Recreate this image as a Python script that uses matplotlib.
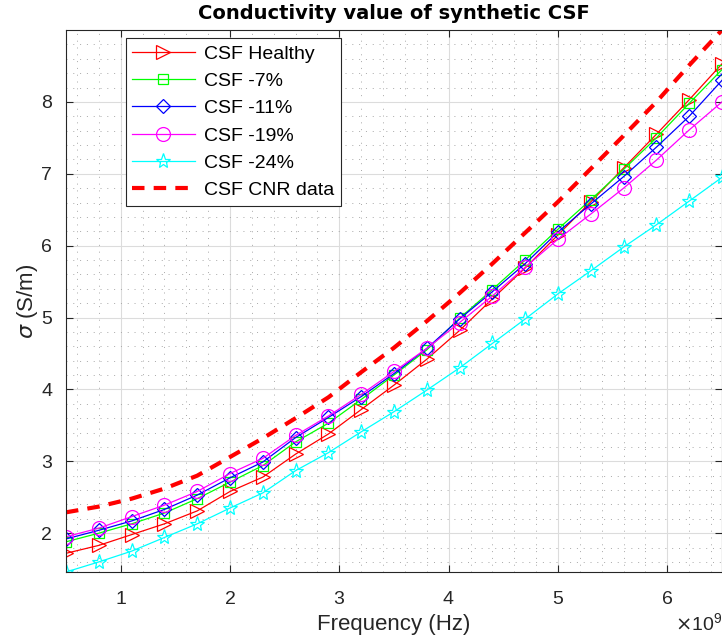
import matplotlib
matplotlib.use('Agg')
import matplotlib.pyplot as plt
from matplotlib.ticker import MultipleLocator, ScalarFormatter

# frequency points (GHz) where markers sit
FREQ_GHZ = [0.5, 0.8, 1.1, 1.4, 1.7, 2.0, 2.3, 2.6, 2.9, 3.2, 3.5,
            3.8, 4.1, 4.4, 4.7, 5.0, 5.3, 5.6, 5.9, 6.2, 6.5]

# conductivity values (S/m)
csf_healthy = [1.72, 1.83, 1.98, 2.13, 2.31, 2.58, 2.78, 3.10, 3.38, 3.72, 4.06,
               4.42, 4.82, 5.26, 5.69, 6.15, 6.61, 7.08, 7.55, 8.03, 8.53]
csf_7 = [1.88, 2.00, 2.13, 2.28, 2.48, 2.71, 2.94, 3.27, 3.53, 3.86, 4.20,
         4.55, 4.99, 5.39, 5.80, 6.23, 6.64, 7.06, 7.50, 7.98, 8.45]
csf_11 = [1.92, 2.04, 2.17, 2.33, 2.53, 2.77, 2.99, 3.33, 3.61, 3.90, 4.22,
          4.57, 4.98, 5.36, 5.75, 6.19, 6.58, 6.96, 7.37, 7.80, 8.30]
csf_19 = [1.95, 2.07, 2.23, 2.39, 2.58, 2.83, 3.04, 3.36, 3.63, 3.93, 4.25,
          4.57, 4.93, 5.30, 5.70, 6.09, 6.44, 6.80, 7.19, 7.61, 8.00]
csf_24 = [1.46, 1.60, 1.75, 1.94, 2.13, 2.35, 2.56, 2.87, 3.12, 3.41, 3.69,
          3.99, 4.30, 4.64, 4.98, 5.33, 5.65, 5.98, 6.29, 6.62, 6.95]
csf_cnr = [2.29, 2.37, 2.48, 2.62, 2.80, 3.06, 3.32, 3.60, 3.89, 4.24, 4.58,
           4.95, 5.34, 5.75, 6.18, 6.61, 7.07, 7.53, 8.00, 8.51, 9.00]

Y_TICKS = [2, 3, 4, 5, 6, 7, 8]

freq = [f * 1e9 for f in FREQ_GHZ]

plt.rcParams['font.family'] = ['Liberation Sans', 'DejaVu Sans']
plt.rcParams['mathtext.fontset'] = 'dejavusans'

fig = plt.figure(figsize=(7.22, 6.44), dpi=100)
ax = fig.add_axes([0.0914, 0.1118, 0.9086, 0.8416])

common = dict(markerfacecolor='none', markeredgewidth=0.9, linewidth=0.9)
ax.plot(freq, csf_healthy, '->', color='red', markersize=10.5,
        label='CSF Healthy', **common)
ax.plot(freq, csf_7, '-s', color='#00ff00', markersize=7.5,
        label='CSF -7%', **common)
ax.plot(freq, csf_11, '-D', color='blue', markersize=7.5,
        label='CSF -11%', **common)
ax.plot(freq, csf_19, '-o', color='magenta', markersize=10,
        label='CSF -19%', **common)
ax.plot(freq, csf_24, '-*', color='cyan', markersize=11,
        label='CSF -24%', **common)
ax.plot(freq, csf_cnr, '--', color='red', linewidth=3, dashes=(3, 2.2),
        label='CSF CNR data')

ax.set_xlim(min(freq), max(freq))
ax.set_ylim(min(csf_24), max(csf_cnr))

ax.xaxis.set_major_locator(MultipleLocator(1e9))
ax.xaxis.set_minor_locator(MultipleLocator(0.2e9))
ax.set_yticks(Y_TICKS)
ax.yaxis.set_minor_locator(MultipleLocator(0.2))
fmt = ScalarFormatter(useMathText=True)
fmt.set_powerlimits((0, 0))
ax.xaxis.set_major_formatter(fmt)
ax.xaxis.get_offset_text().set_fontsize(14)
ax.xaxis.get_offset_text().set_color('#262626')

ax.grid(which='major', color='#dcdcdc', linewidth=0.8)
ax.grid(which='minor', color='#a8a8a8', linestyle=(0, (1, 6)), linewidth=0.7)
ax.set_axisbelow(True)

ax.tick_params(which='both', direction='in', top=True, right=True,
               labelsize=14, colors='#262626')
ax.tick_params(which='major', length=5)
ax.tick_params(which='minor', length=0)
ax.tick_params(axis='x', pad=14)
ax.tick_params(axis='y', pad=10)
for s in ax.spines.values():
    s.set_color('#262626')
    s.set_linewidth(0.8)

ax.set_xlabel('Frequency (Hz)', fontsize=16, color='#262626', labelpad=4)
ax.set_ylabel(r'$\sigma$ (S/m)', fontsize=16, color='#262626', labelpad=1)
ax.set_title('Conductivity value of synthetic CSF', fontsize=14,
             fontweight='bold', family='DejaVu Sans', pad=8)

leg = ax.legend(loc='upper left', bbox_to_anchor=(0.076, 1.003), fontsize=14,
                fancybox=False, edgecolor='#262626', framealpha=1,
                handlelength=3.2, borderpad=0.35, labelspacing=0.5,
                handletextpad=0.5)
leg.get_frame().set_linewidth(0.8)

fig.savefig('out.png', dpi=100)
